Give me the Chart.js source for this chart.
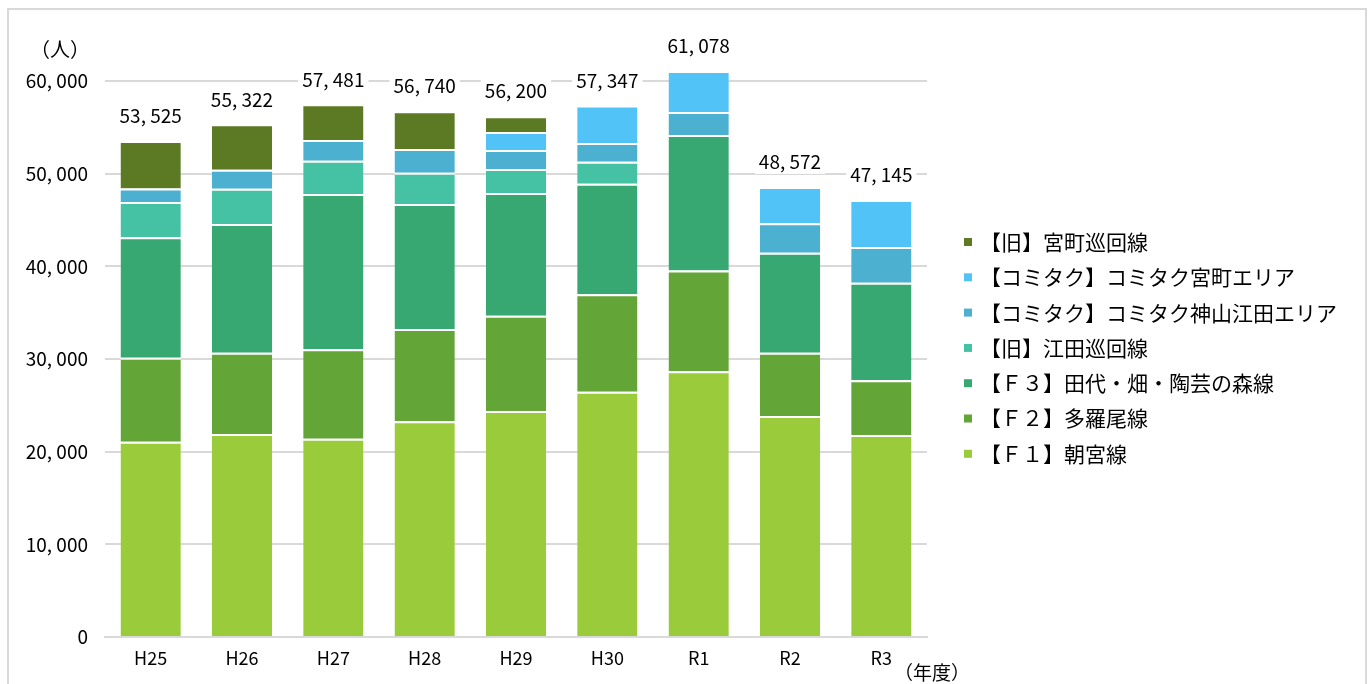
<!DOCTYPE html>
<html><head><meta charset="utf-8">
<script src="https://cdn.jsdelivr.net/npm/chart.js@4"></script>
<style>
html,body{margin:0;padding:0;background:#fff;}
#wrap{position:relative;width:1370px;height:684px;overflow:hidden;}
#frame{position:absolute;left:7px;top:8px;width:1360px;height:700px;border:2px solid #d9d9d9;box-sizing:border-box;}
canvas{position:absolute;left:0;top:0;}
</style></head><body>
<div id="wrap"><div id="frame"></div><canvas id="c" width="1370" height="684"></canvas></div>
<script>
const categories = ['H25','H26','H27','H28','H29','H30','R1','R2','R3'];
const seriesNames = ['【Ｆ１】朝宮線','【Ｆ２】多羅尾線','【Ｆ３】田代・畑・陶芸の森線','【旧】江田巡回線','【コミタク】コミタク神山江田エリア','【コミタク】コミタク宮町エリア','【旧】宮町巡回線'];
const seriesColors = ['#9ACB3A','#63A537','#38A872','#45C2A4','#4CB1D0','#52C3F7','#5B7A23'];
const f1 = [21070, 21900, 21400, 23270, 24390, 26470, 28670, 23850, 21800];
const f2 = [9070, 8780, 9640, 9960, 10280, 10510, 10890, 6830, 5900];
const f3 = [12990, 13880, 16760, 13490, 13240, 11930, 14610, 10790, 10530];
const edaOld = [3810, 3810, 3590, 3380, 2590, 2380, null, null, null];
const kamiyamaEda = [1470, 2050, 2240, 2560, 2050, 2010, 2480, 3170, 3850];
const miyamachiArea = [null, null, null, null, 1940, 4047, 4428, 3932, 5065];
const miyamachiOld = [5115, 4900, 3850, 4080, 1710, null, null, null, null];
const totals = [53525, 55322, 57481, 56740, 56200, 57347, 61078, 48572, 47145];
const yTicks = [0, 10000, 20000, 30000, 40000, 50000, 60000];

const seriesData = [f1, f2, f3, edaOld, kamiyamaEda, miyamachiArea, miyamachiOld];
const FONT = "'Noto Sans CJK JP', sans-serif";
const fmt = v => v.toLocaleString('en-US').replace(/,/g, ', ');

const datasets = seriesData.map((d, i) => ({
  label: seriesNames[i],
  data: d,
  backgroundColor: seriesColors[i],
  borderColor: '#ffffff',
  borderWidth: {top: 2, left: 0, right: 0, bottom: 0},
  borderSkipped: false,
  clip: false,
  barPercentage: 0.66,
  categoryPercentage: 1.0
}));

const extras = {
  id: 'extras',
  afterDatasetsDraw(chart) {
    const ctx = chart.ctx, xs = chart.scales.x, ys = chart.scales.y;
    ctx.save();
    ctx.font = '19px ' + FONT;
    ctx.textAlign = 'center';
    ctx.textBaseline = 'middle';
    totals.forEach((t, i) => {
      const x = xs.getPixelForValue(i);
      const y = ys.getPixelForValue(t) - 25;
      const txt = fmt(t);
      const w = ctx.measureText(txt).width;
      ctx.fillStyle = '#fff';
      ctx.fillRect(x - w / 2 - 4, y - 12, w + 8, 24);
      ctx.fillStyle = '#000';
      ctx.fillText(txt, x, y);
    });
    // axis unit labels
    ctx.font = '20px ' + FONT;
    ctx.textAlign = 'left';
    ctx.fillText('（人）', 30, 49);
    ctx.font = '19px ' + FONT;
    ctx.fillText('（年度）', 894, 673);
    // legend
    ctx.font = '21px ' + FONT;
    const ds = chart.data.datasets;
    for (let k = 0; k < ds.length; k++) {
      const d = ds[ds.length - 1 - k];
      const y = 242 + k * 35.3;
      ctx.fillStyle = d.backgroundColor;
      ctx.fillRect(964, y - 4, 8, 8);
      ctx.fillStyle = '#000';
      ctx.fillText(d.label, 980, y);
    }
    ctx.restore();
  }
};

new Chart(document.getElementById('c'), {
  type: 'bar',
  data: { labels: categories, datasets },
  options: {
    responsive: false,
    animation: false,
    layout: { padding: { left: 0, top: 81, right: 443, bottom: 0 } },
    plugins: { legend: { display: false }, tooltip: { enabled: false } },
    scales: {
      x: {
        stacked: true,
        grid: { display: false, drawTicks: false },
        border: { display: true, color: '#d9d9d9', width: 2 },
        ticks: { color: '#000', font: { family: FONT, size: 18 }, padding: 10 },
        afterFit(s) { s.height = 47; }
      },
      y: {
        stacked: true,
        min: 0, max: 60000,
        afterBuildTicks(s) { s.ticks = yTicks.map(v => ({ value: v })); },
        grid: { color: '#d9d9d9', lineWidth: 2, drawTicks: false },
        border: { display: false },
        ticks: { color: '#000', font: { family: FONT, size: 19 }, padding: 17, callback: v => fmt(v) },
        afterFit(s) { s.width = 105; }
      }
    }
  },
  plugins: [extras]
});
</script>
</body></html>
